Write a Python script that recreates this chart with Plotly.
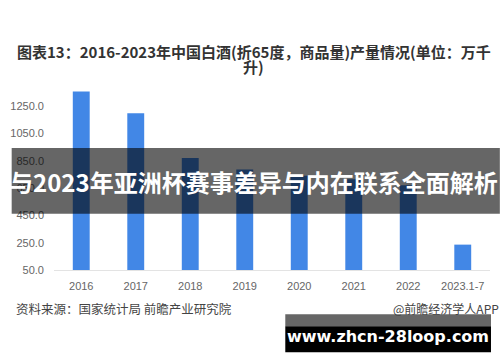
import plotly.graph_objects as go

categories = ["2016", "2017", "2018", "2019", "2020", "2021", "2022", "2023.1-7"]
production = [1358.4, 1198.1, 871.2, 785.9, 740.7, 715.6, 671.2, 236.0]
y_ticks = [50, 250, 450, 650, 850, 1050, 1250]
y_tick_labels = ["50.0", "250.0", "450.0", "650.0", "850.0", "1050.0", "1250.0"]

title_line1 = "图表13：2016-2023年中国白酒(折65度，商品量)产量情况(单位：万千"
title_line2 = "升)"
source_text = "资料来源：国家统计局 前瞻产业研究院"
credit_text = "@前瞻经济学人APP"
banner_text = "与2023年亚洲杯赛事差异与内在联系全面解析"
site_text = "www.zhcn-28loop.com"

W, H = 500, 362
L, R = 47, 10
T_PX, B_PX = 78.7, 270.5  # plot top / bottom in pixels

def px(x):
    return (x - L) / (W - L - R)

def py(y):
    return (B_PX - y) / (B_PX - T_PX)

CJK = "Noto Sans CJK SC, Noto Sans, sans-serif"

fig = go.Figure()
fig.add_trace(go.Bar(
    x=categories, y=[v - 50 for v in production], base=50,
    marker=dict(color="#4287e6", line=dict(width=0)),
    width=0.31, hoverinfo="skip",
))

fig.update_layout(
    width=W, height=H,
    margin=dict(l=L, r=R, t=T_PX, b=H - B_PX, pad=0),
    paper_bgcolor="white", plot_bgcolor="white",
    showlegend=False,
    xaxis=dict(
        showgrid=False, zeroline=False, showline=True, linecolor="#e3e3e3", linewidth=1,
        ticks="", tickfont=dict(family="Liberation Sans, Arial, sans-serif", size=11, color="#666666"),
        ticklabelstandoff=6,
    ),
    yaxis=dict(
        range=[50, 1450], showgrid=False, zeroline=False, showline=False,
        tickmode="array", tickvals=y_ticks, ticktext=y_tick_labels,
        tickfont=dict(family="Liberation Sans, Arial, sans-serif", size=11, color="#666666"),
        ticks="", ticklabelstandoff=9,
    ),
)

shapes = []
# dark translucent banner across middle
shapes.append(dict(type="rect", xref="paper", yref="paper",
                   x0=px(4), x1=px(500), y0=py(214), y1=py(148),
                   fillcolor="rgba(0,0,0,0.6)", line=dict(width=0), layer="above"))
# bottom site banner
shapes.append(dict(type="rect", xref="paper", yref="paper",
                   x0=px(282), x1=px(491), y0=py(327), y1=py(315),
                   fillcolor="#666666", line=dict(width=0), layer="above"))
shapes.append(dict(type="rect", xref="paper", yref="paper",
                   x0=px(282), x1=px(491), y0=py(353), y1=py(327),
                   fillcolor="#000000", line=dict(width=0), layer="above"))
fig.update_layout(shapes=shapes)

ann = [
    dict(text="<b>" + title_line1 + "</b>", x=px(250), y=py(51.5), xanchor="center", yanchor="middle",
         font=dict(family=CJK, size=15, color="#333333")),
    dict(text="<b>" + title_line2 + "</b>", x=px(250), y=py(66), xanchor="center", yanchor="middle",
         font=dict(family=CJK, size=15, color="#333333")),
    dict(text=source_text, x=px(6), y=py(309), xanchor="left", yanchor="middle",
         font=dict(family=CJK, size=12.5, color="#444444")),
    dict(text=credit_text, x=px(501), y=py(309), xanchor="right", yanchor="middle",
         font=dict(family=CJK, size=12, color="#444444")),
    dict(text="<b>" + banner_text + "</b>", x=px(250), y=py(182), xanchor="center", yanchor="middle",
         font=dict(family=CJK, size=24, color="white")),
    dict(text="<b>" + site_text + "</b>", x=px(386), y=py(337), xanchor="center", yanchor="middle",
         font=dict(family="DejaVu Sans, sans-serif", size=16, color="white")),
]
for a in ann:
    a.update(xref="paper", yref="paper", showarrow=False)
fig.update_layout(annotations=ann)

fig.write_html("out.html")
